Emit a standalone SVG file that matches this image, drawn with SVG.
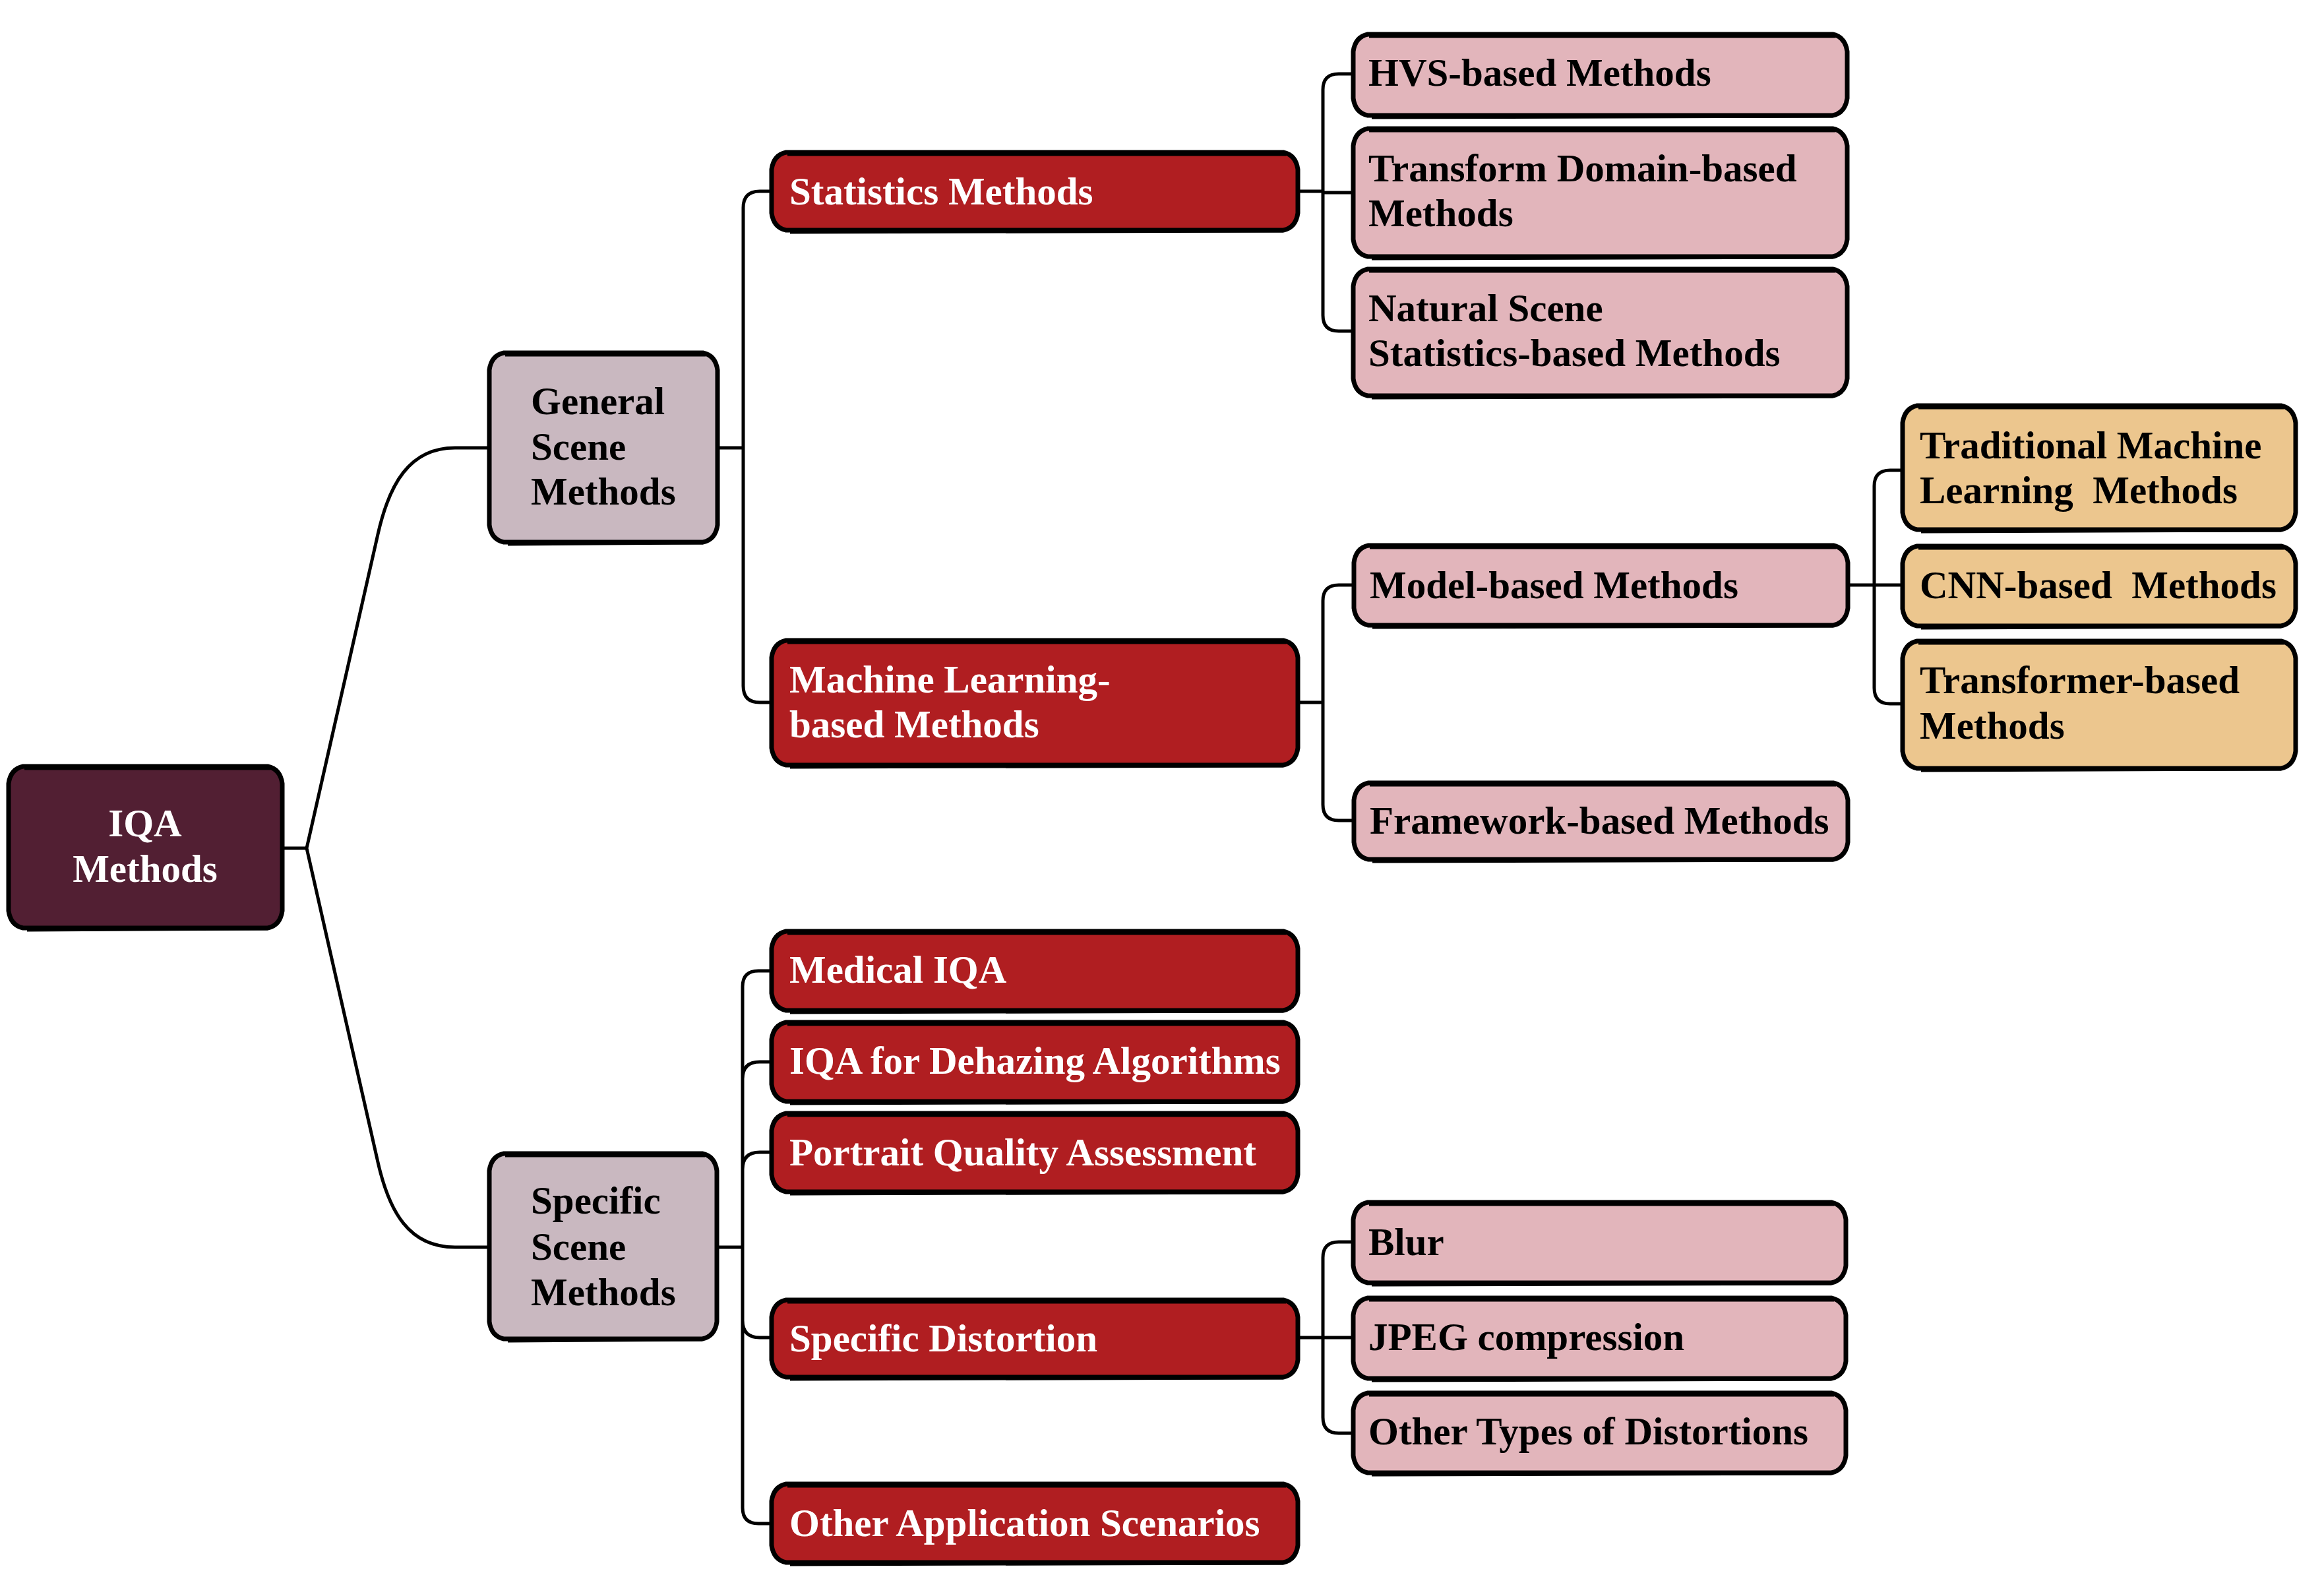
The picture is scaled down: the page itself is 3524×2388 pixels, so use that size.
<svg xmlns="http://www.w3.org/2000/svg" width="3524" height="2388" viewBox="0 0 3524 2388">
<style>
.box{stroke:#000;stroke-width:7;stroke-linejoin:round}
.sk{fill:none;stroke:#000;stroke-width:5}
.root{fill:#521F33}
.l1{fill:#C9B8C0}
.l2{fill:#B01E21}
.l3{fill:#E2B5BB}
.l4{fill:#ECC68E}
.conn{fill:none;stroke:#000;stroke-width:5;stroke-linecap:butt;stroke-linejoin:round}
text{font-family:"Liberation Serif","Times New Roman",serif;font-weight:bold;font-size:59px;white-space:pre}
.w{fill:#fff}
.k{fill:#000}
</style>
<rect width="3524" height="2388" fill="#fff"/>
<g id="connectors">
<path class="conn" d="M428,1286 H465 M465,1286 L573,810 C590,735 620,679 690,679 H744 M465,1286 L573,1762 C590,1837 620,1891 690,1891 H744"/>
<path class="conn" d="M1088,679 H1127 M1170,290 H1152 Q1127,290 1127,315 V1040 Q1127,1065 1152,1065 H1171"/>
<path class="conn" d="M1968,290 H2006 M2052,112 H2030 Q2006,112 2006,136 V478 Q2006,502 2030,502 H2052 M2006,292 H2052"/>
<path class="conn" d="M1968,1065 H2006 M2053,887 H2030 Q2006,887 2006,911 V1220 Q2006,1244 2030,1244 H2053"/>
<path class="conn" d="M2802,887 H2885 M2885,713 H2866 Q2842,713 2842,737 V1043 Q2842,1067 2866,1067 H2885"/>
<path class="conn" d="M1087,1891 H1126 M1170,1472 H1150 Q1126,1472 1126,1496 V2286 Q1126,2310 1150,2310 H1170 M1126,1636 Q1126,1610 1152,1610 H1170 M1126,1773 Q1126,1747 1152,1747 H1170 M1126,2002 Q1126,2028 1152,2028 H1170"/>
<path class="conn" d="M1968,2028 H2006 M2052,1883 H2030 Q2006,1883 2006,1907 V2149 Q2006,2173 2030,2173 H2052 M2006,2028 H2052"/>
</g>
<g id="n-iqa">
<path class="box root" d="M35,1162 H406 Q425,1166 428,1188 V1381 Q425,1403 406,1407 H35 Q16,1403 13,1381 V1188 Q16,1166 35,1162 Z"/>
<path class="sk" d="M37,1165 H410 M41,1410 L406,1408"/>
<text class="w" x="220" y="1268" text-anchor="middle">IQA</text>
<text class="w" x="220" y="1337" text-anchor="middle">Methods</text>
</g>
<g id="n-general">
<path class="box l1" d="M764,535 H1066 Q1085,539 1088,561 V796 Q1085,818 1066,822 H764 Q745,818 742,796 V561 Q745,539 764,535 Z"/>
<path class="sk" d="M766,538 H1070 M770,825 L1066,823"/>
<text class="k" x="805" y="628">General</text>
<text class="k" x="805" y="697">Scene</text>
<text class="k" x="805" y="765">Methods</text>
</g>
<g id="n-specific">
<path class="box l1" d="M764,1749 H1065 Q1084,1753 1087,1775 V2004 Q1084,2026 1065,2030 H764 Q745,2026 742,2004 V1775 Q745,1753 764,1749 Z"/>
<path class="sk" d="M766,1752 H1069 M770,2033 L1065,2031"/>
<text class="k" x="805" y="1840">Specific</text>
<text class="k" x="805" y="1910">Scene</text>
<text class="k" x="805" y="1979">Methods</text>
</g>
<g id="n-statistics">
<path class="box l2" d="M1192,231 H1946 Q1965,235 1968,257 V323 Q1965,345 1946,349 H1192 Q1173,345 1170,323 V257 Q1173,235 1192,231 Z"/>
<path class="sk" d="M1194,234 H1950 M1198,352 L1946,350"/>
<text class="w" x="1197" y="310">Statistics Methods</text>
</g>
<g id="n-ml">
<path class="box l2" d="M1192,971 H1946 Q1965,975 1968,997 V1134 Q1965,1156 1946,1160 H1192 Q1173,1156 1170,1134 V997 Q1173,975 1192,971 Z"/>
<path class="sk" d="M1194,974 H1950 M1198,1163 L1946,1161"/>
<text class="w" x="1197" y="1050">Machine Learning-</text>
<text class="w" x="1197" y="1118">based Methods</text>
</g>
<g id="n-medical">
<path class="box l2" d="M1192,1412 H1946 Q1965,1416 1968,1438 V1506 Q1965,1528 1946,1532 H1192 Q1173,1528 1170,1506 V1438 Q1173,1416 1192,1412 Z"/>
<path class="sk" d="M1194,1415 H1950 M1198,1535 L1946,1533"/>
<text class="w" x="1197" y="1490">Medical IQA</text>
</g>
<g id="n-dehazing">
<path class="box l2" d="M1192,1550 H1946 Q1965,1554 1968,1576 V1644 Q1965,1666 1946,1670 H1192 Q1173,1666 1170,1644 V1576 Q1173,1554 1192,1550 Z"/>
<path class="sk" d="M1194,1553 H1950 M1198,1673 L1946,1671"/>
<text class="w" x="1197" y="1628">IQA for Dehazing Algorithms</text>
</g>
<g id="n-portrait">
<path class="box l2" d="M1192,1688 H1946 Q1965,1692 1968,1714 V1781 Q1965,1803 1946,1807 H1192 Q1173,1803 1170,1781 V1714 Q1173,1692 1192,1688 Z"/>
<path class="sk" d="M1194,1691 H1950 M1198,1810 L1946,1808"/>
<text class="w" x="1197" y="1767">Portrait Quality Assessment</text>
</g>
<g id="n-specdist">
<path class="box l2" d="M1192,1971 H1946 Q1965,1975 1968,1997 V2062 Q1965,2084 1946,2088 H1192 Q1173,2084 1170,2062 V1997 Q1173,1975 1192,1971 Z"/>
<path class="sk" d="M1194,1974 H1950 M1198,2091 L1946,2089"/>
<text class="w" x="1197" y="2049">Specific Distortion</text>
</g>
<g id="n-otherapp">
<path class="box l2" d="M1192,2250 H1946 Q1965,2254 1968,2276 V2343 Q1965,2365 1946,2369 H1192 Q1173,2365 1170,2343 V2276 Q1173,2254 1192,2250 Z"/>
<path class="sk" d="M1194,2253 H1950 M1198,2372 L1946,2370"/>
<text class="w" x="1197" y="2329">Other Application Scenarios</text>
</g>
<g id="n-hvs">
<path class="box l3" d="M2074,52 H2779 Q2798,56 2801,78 V149 Q2798,171 2779,175 H2074 Q2055,171 2052,149 V78 Q2055,56 2074,52 Z"/>
<path class="sk" d="M2076,55 H2783 M2080,178 L2779,176"/>
<text class="k" x="2075" y="130">HVS-based Methods</text>
</g>
<g id="n-transform">
<path class="box l3" d="M2074,195 H2779 Q2798,199 2801,221 V363 Q2798,385 2779,389 H2074 Q2055,385 2052,363 V221 Q2055,199 2074,195 Z"/>
<path class="sk" d="M2076,198 H2783 M2080,392 L2779,390"/>
<text class="k" x="2075" y="275">Transform Domain-based</text>
<text class="k" x="2075" y="343">Methods</text>
</g>
<g id="n-natural">
<path class="box l3" d="M2074,408 H2779 Q2798,412 2801,434 V574 Q2798,596 2779,600 H2074 Q2055,596 2052,574 V434 Q2055,412 2074,408 Z"/>
<path class="sk" d="M2076,411 H2783 M2080,603 L2779,601"/>
<text class="k" x="2075" y="487">Natural Scene</text>
<text class="k" x="2075" y="555">Statistics-based Methods</text>
</g>
<g id="n-model">
<path class="box l3" d="M2075,827 H2780 Q2799,831 2802,853 V922 Q2799,944 2780,948 H2075 Q2056,944 2053,922 V853 Q2056,831 2075,827 Z"/>
<path class="sk" d="M2077,830 H2784 M2081,951 L2780,949"/>
<text class="k" x="2077" y="907">Model-based Methods</text>
</g>
<g id="n-framework">
<path class="box l3" d="M2075,1187 H2780 Q2799,1191 2802,1213 V1277 Q2799,1299 2780,1303 H2075 Q2056,1299 2053,1277 V1213 Q2056,1191 2075,1187 Z"/>
<path class="sk" d="M2077,1190 H2784 M2081,1306 L2780,1304"/>
<text class="k" x="2077" y="1264">Framework-based Methods</text>
</g>
<g id="n-blur">
<path class="box l3" d="M2074,1823 H2777 Q2796,1827 2799,1849 V1919 Q2796,1941 2777,1945 H2074 Q2055,1941 2052,1919 V1849 Q2055,1827 2074,1823 Z"/>
<path class="sk" d="M2076,1826 H2781 M2080,1948 L2777,1946"/>
<text class="k" x="2075" y="1903">Blur</text>
</g>
<g id="n-jpeg">
<path class="box l3" d="M2074,1968 H2777 Q2796,1972 2799,1994 V2064 Q2796,2086 2777,2090 H2074 Q2055,2086 2052,2064 V1994 Q2055,1972 2074,1968 Z"/>
<path class="sk" d="M2076,1971 H2781 M2080,2093 L2777,2091"/>
<text class="k" x="2075" y="2047">JPEG compression</text>
</g>
<g id="n-othertypes">
<path class="box l3" d="M2074,2112 H2777 Q2796,2116 2799,2138 V2207 Q2796,2229 2777,2233 H2074 Q2055,2229 2052,2207 V2138 Q2055,2116 2074,2112 Z"/>
<path class="sk" d="M2076,2115 H2781 M2080,2236 L2777,2234"/>
<text class="k" x="2075" y="2190">Other Types of Distortions</text>
</g>
<g id="n-traditional">
<path class="box l4" d="M2907,615 H3459 Q3478,619 3481,641 V777 Q3478,799 3459,803 H2907 Q2888,799 2885,777 V641 Q2888,619 2907,615 Z"/>
<path class="sk" d="M2909,618 H3463 M2913,806 L3459,804"/>
<text class="k" x="2911" y="695">Traditional Machine</text>
<text class="k" x="2911" y="763" xml:space="preserve">Learning  Methods</text>
</g>
<g id="n-cnn">
<path class="box l4" d="M2907,828 H3459 Q3478,832 3481,854 V923 Q3478,945 3459,949 H2907 Q2888,945 2885,923 V854 Q2888,832 2907,828 Z"/>
<path class="sk" d="M2909,831 H3463 M2913,952 L3459,950"/>
<text class="k" x="2911" y="907" xml:space="preserve">CNN-based  Methods</text>
</g>
<g id="n-transformer">
<path class="box l4" d="M2907,972 H3459 Q3478,976 3481,998 V1139 Q3478,1161 3459,1165 H2907 Q2888,1161 2885,1139 V998 Q2888,976 2907,972 Z"/>
<path class="sk" d="M2909,975 H3463 M2913,1168 L3459,1166"/>
<text class="k" x="2911" y="1051">Transformer-based</text>
<text class="k" x="2911" y="1120">Methods</text>
</g>
</svg>
